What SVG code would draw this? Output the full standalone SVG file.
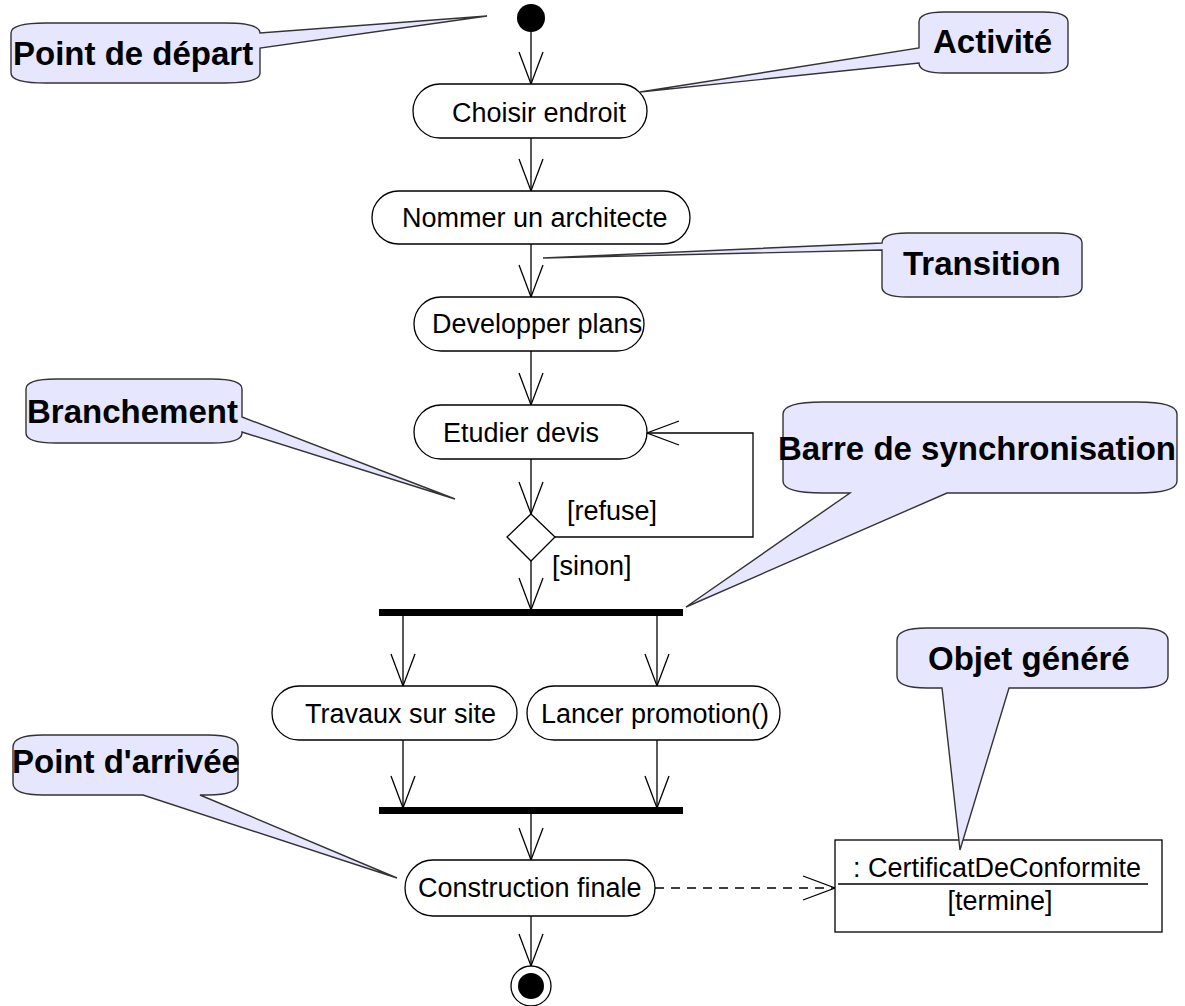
<svg xmlns="http://www.w3.org/2000/svg" width="1185" height="1006" viewBox="0 0 1185 1006">
<style>
.node{fill:#fff;stroke:#000;stroke-width:1.3}
.lbl{font-family:"Liberation Sans",Arial,sans-serif;font-size:27px;fill:#000}
.bub{fill:#e6e6ff;stroke:#333;stroke-width:1.4;stroke-linejoin:miter}
.btxt{font-family:"Liberation Sans",Arial,sans-serif;font-size:33px;font-weight:bold;fill:#000}
.edge{fill:none;stroke:#000;stroke-width:1.3}
</style>
<defs>
<marker id="arr" markerUnits="userSpaceOnUse" markerWidth="36" markerHeight="28" viewBox="-34 -14 36 28" refX="0" refY="0" orient="auto">
<path d="M-32,-12 L0,0 L-32,12" fill="none" stroke="#000" stroke-width="1.3"/>
</marker>
</defs>
<rect width="1185" height="1006" fill="#fff"/>

<g id="connectors">
<line class="edge" x1="531" y1="32" x2="531" y2="84" marker-end="url(#arr)"/>
<line class="edge" x1="531" y1="138" x2="531" y2="191" marker-end="url(#arr)"/>
<line class="edge" x1="531" y1="244" x2="531" y2="297" marker-end="url(#arr)"/>
<line class="edge" x1="531" y1="351" x2="531" y2="405" marker-end="url(#arr)"/>
<line class="edge" x1="531" y1="459" x2="531" y2="514" marker-end="url(#arr)"/>
<polyline class="edge" points="555,537 753,537 753,433 647,433" marker-end="url(#arr)"/>
<line class="edge" x1="531" y1="561" x2="531" y2="610" marker-end="url(#arr)"/>
<line class="edge" x1="403" y1="615" x2="403" y2="686" marker-end="url(#arr)"/>
<line class="edge" x1="657" y1="615" x2="657" y2="686" marker-end="url(#arr)"/>
<line class="edge" x1="403" y1="740" x2="403" y2="808" marker-end="url(#arr)"/>
<line class="edge" x1="657" y1="740" x2="657" y2="808" marker-end="url(#arr)"/>
<line class="edge" x1="531" y1="813" x2="531" y2="860" marker-end="url(#arr)"/>
<line class="edge" x1="531" y1="916" x2="531" y2="966" marker-end="url(#arr)"/>
<line class="edge" x1="655" y1="888" x2="835" y2="888" stroke-dasharray="9,7" marker-end="url(#arr)"/>
<text class="lbl" x="567" y="520">[refuse]</text>
<text class="lbl" x="552" y="575">[sinon]</text>
</g>

<g id="start"><circle cx="531" cy="18" r="14" fill="#000"/></g>
<g id="choisir"><rect class="node" x="413" y="84" width="234" height="54" rx="27"/><text class="lbl" x="452" y="122">Choisir endroit</text></g>
<g id="nommer"><rect class="node" x="372" y="191" width="318" height="53" rx="26.5"/><text class="lbl" x="402" y="227">Nommer un architecte</text></g>
<g id="developper"><rect class="node" x="414" y="297" width="230" height="54" rx="27"/><text class="lbl" x="432" y="333">Developper plans</text></g>
<g id="etudier"><rect class="node" x="414" y="405" width="233" height="54" rx="27"/><text class="lbl" x="443" y="442">Etudier devis</text></g>
<g id="decision"><polygon class="node" points="531,514 555,537 531,561 507,537"/></g>
<g id="fork"><rect x="379" y="609" width="304" height="7" fill="#000"/></g>
<g id="travaux"><rect class="node" x="272" y="686" width="245" height="54" rx="27"/><text class="lbl" x="305" y="723">Travaux sur site</text></g>
<g id="lancer"><rect class="node" x="527" y="686" width="253" height="54" rx="27"/><text class="lbl" x="541" y="723">Lancer promotion()</text></g>
<g id="join"><rect x="379" y="807" width="304" height="7" fill="#000"/></g>
<g id="construction"><rect class="node" x="405" y="860" width="250" height="56" rx="28"/><text class="lbl" x="418" y="897">Construction finale</text></g>
<g id="end"><circle cx="531" cy="986" r="20" fill="#fff" stroke="#000" stroke-width="1.3"/><circle cx="531" cy="986" r="13" fill="#000"/></g>
<g id="objet"><rect class="node" x="835" y="840" width="327" height="92"/><line x1="838" y1="884" x2="1148" y2="884" stroke="#000" stroke-width="1.3"/><text class="lbl" x="853" y="877">: CertificatDeConformite</text><text class="lbl" x="1000" y="910" text-anchor="middle">[termine]</text></g>

<g id="note-depart"><path class="bub" d="M46,23 L225,23 Q260,23 260,33 L487,16 L260,48 L260,73 Q260,83 225,83 L46,83 Q11,83 11,73 L11,33 Q11,23 46,23 Z"/><text class="btxt" x="13" y="65">Point de départ</text></g>
<g id="note-activite"><path class="bub" d="M944,12 L1043,12 Q1068,12 1068,22 L1068,63 Q1068,73 1043,73 L944,73 Q919,73 919,63 L640,92 L919,48 L919,22 Q919,12 944,12 Z"/><text class="btxt" x="933" y="53">Activité</text></g>
<g id="note-transition"><path class="bub" d="M907,233 L1057,233 Q1082,233 1082,243 L1082,287 Q1082,297 1057,297 L907,297 Q882,297 882,287 L882,250 L543,258 L882,243 Q882,233 907,233 Z"/><text class="btxt" x="903" y="275">Transition</text></g>
<g id="note-branchement"><path class="bub" d="M56,379 L212,379 Q242,379 242,389 L242,417 L455,499 L242,432 L242,433 Q242,443 212,443 L56,443 Q26,443 26,433 L26,389 Q26,379 56,379 Z"/><text class="btxt" x="27" y="423">Branchement</text></g>
<g id="note-barre"><path class="bub" d="M823,402 L1137,402 Q1177,402 1177,414 L1177,481 Q1177,493 1137,493 L947,493 L686,607 L850,493 L823,493 Q783,493 783,481 L783,414 Q783,402 823,402 Z"/><text class="btxt" x="778" y="460">Barre de synchronisation</text></g>
<g id="note-objet"><path class="bub" d="M927,628 L1138,628 Q1168,628 1168,640 L1168,676 Q1168,688 1138,688 L1009,688 L960,850 L942,688 L927,688 Q897,688 897,676 L897,640 Q897,628 927,628 Z"/><text class="btxt" x="928" y="670">Objet généré</text></g>
<g id="note-arrivee"><path class="bub" d="M43,735 L208,735 Q238,735 238,747 L238,783 Q238,795 208,795 L200,795 L397,878 L143,795 L43,795 Q13,795 13,783 L13,747 Q13,735 43,735 Z"/><text class="btxt" x="12" y="773">Point d'arrivée</text></g>
</svg>
